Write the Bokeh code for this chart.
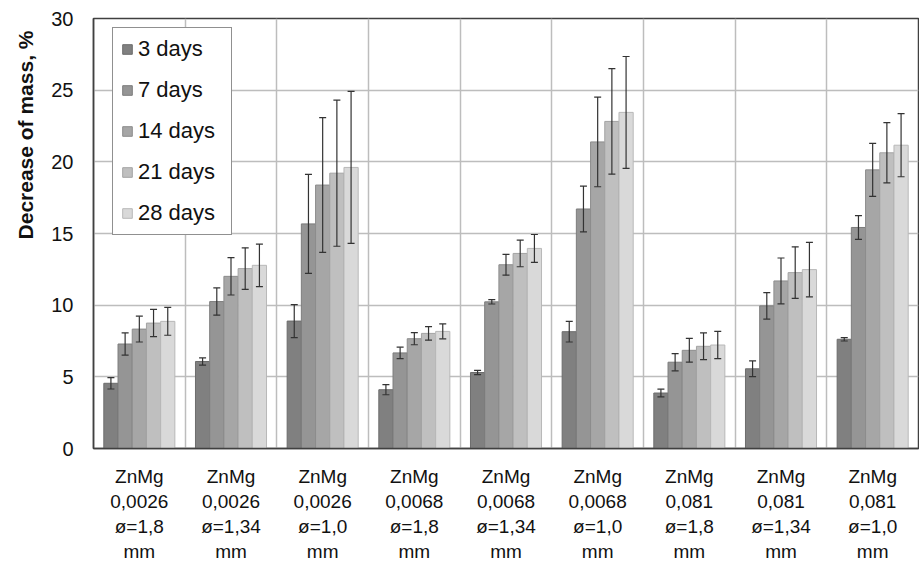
import numpy as np
from bokeh.plotting import figure
from bokeh.models import (ColumnDataSource, Range1d, FixedTicker, Whisker, Legend,
                          LegendItem, Title, TeeHead)
from bokeh.transform import dodge
from bokeh.embed import file_html
from bokeh.resources import INLINE

labels = ["ZnMg\n0,0026\nø=1,8\nmm", "ZnMg\n0,0026\nø=1,34\nmm", "ZnMg\n0,0026\nø=1,0\nmm",
          "ZnMg\n0,0068\nø=1,8\nmm", "ZnMg\n0,0068\nø=1,34\nmm", "ZnMg\n0,0068\nø=1,0\nmm",
          "ZnMg\n0,081\nø=1,8\nmm", "ZnMg\n0,081\nø=1,34\nmm", "ZnMg\n0,081\nø=1,0\nmm"]
series_names = ["3 days", "7 days", "14 days", "21 days", "28 days"]

days3 = [4.55, 6.07, 8.89, 4.10, 5.30, 8.15, 3.87, 5.56, 7.62]
err3 = [0.40, 0.25, 1.15, 0.35, 0.15, 0.72, 0.27, 0.55, 0.12]
days7 = [7.29, 10.25, 15.67, 6.67, 10.23, 16.71, 6.02, 9.95, 15.42]
err7 = [0.77, 0.95, 3.45, 0.40, 0.15, 1.60, 0.60, 0.92, 0.83]
days14 = [8.33, 12.01, 18.38, 7.66, 12.82, 21.39, 6.85, 11.69, 19.44]
err14 = [0.90, 1.30, 4.70, 0.42, 0.73, 3.13, 0.83, 1.60, 1.85]
days21 = [8.75, 12.55, 19.21, 8.03, 13.61, 22.82, 7.13, 12.27, 20.63]
err21 = [0.95, 1.45, 5.10, 0.47, 0.93, 3.68, 0.93, 1.80, 2.10]
days28 = [8.87, 12.78, 19.61, 8.17, 13.96, 23.45, 7.22, 12.48, 21.16]
err28 = [0.97, 1.48, 5.30, 0.52, 0.97, 3.90, 0.95, 1.90, 2.20]

y_ticks = [0, 5, 10, 15, 20, 25, 30]

values = [days3, days7, days14, days21, days28]
errors = [err3, err7, err14, err21, err28]
fills = ["#808080", "#959595", "#a6a6a6", "#bfbfbf", "#d9d9d9"]
edges = ["#6c6c6c", "#7c7c7c", "#8c8c8c", "#a3a3a3", "#b8b8b8"]

n = len(labels)
centers = np.arange(n) + 0.5
bar_w = 0.155

p = figure(width=919, height=565, output_backend="svg", toolbar_location=None,
           x_range=Range1d(0, n), y_range=Range1d(0, 30),
           min_border_left=92, min_border_right=1, min_border_top=18, min_border_bottom=115)
p.background_fill_color = "white"
p.border_fill_color = "white"
p.outline_line_color = "#404040"
p.outline_line_width = 1.5

p.xaxis.ticker = FixedTicker(ticks=list(centers))
p.xaxis.major_label_overrides = {float(c): lab for c, lab in zip(centers, labels)}
p.xaxis.major_label_text_font = "'Liberation Sans Narrow', 'Liberation Sans'"
p.xaxis.major_label_text_font_size = "19px"
p.xaxis.major_label_text_line_height = 1.2
p.xaxis.major_label_text_color = "#111111"
p.xaxis.major_label_standoff = 17
p.xaxis.major_tick_out = 0
p.xaxis.major_tick_in = 0
p.xaxis.minor_tick_out = 0
p.xaxis.minor_tick_in = 0
p.xaxis.axis_line_color = "#404040"
p.xaxis.axis_line_width = 1.5

p.yaxis.ticker = FixedTicker(ticks=y_ticks)
p.yaxis.major_label_text_font = "Liberation Sans"
p.yaxis.major_label_text_font_size = "20px"
p.yaxis.major_label_text_color = "#111111"
p.yaxis.major_label_standoff = 20
p.yaxis.major_tick_out = 0
p.yaxis.major_tick_in = 0
p.yaxis.minor_tick_out = 0
p.yaxis.minor_tick_in = 0
p.yaxis.axis_line_color = "#404040"
p.yaxis.axis_line_width = 1.5

p.xgrid.ticker = FixedTicker(ticks=list(np.arange(1, n)))
p.xgrid.grid_line_color = "#bdbdbd"
p.xgrid.grid_line_width = 1.5
p.ygrid.grid_line_color = "#bdbdbd"
p.ygrid.grid_line_width = 1.5

data = {"x": centers}
for i in range(5):
    data[f"v{i}"] = values[i]
    data[f"lo{i}"] = np.array(values[i]) - np.array(errors[i])
    data[f"hi{i}"] = np.array(values[i]) + np.array(errors[i])
source = ColumnDataSource(data)

offsets = [(i - 2) * bar_w for i in range(5)]
items = []
for i in range(5):
    r = p.vbar(x=dodge("x", offsets[i], range=p.x_range), top=f"v{i}", width=bar_w,
               source=source, fill_color=fills[i], line_color=edges[i], line_width=1)
    items.append(LegendItem(label=series_names[i], renderers=[r]))
for i in range(5):
    w = Whisker(source=source, base=dodge("x", offsets[i], range=p.x_range),
                upper=f"hi{i}", lower=f"lo{i}", dimension="height", level="overlay",
                line_color="#333333", line_width=1.2,
                upper_head=TeeHead(size=7, line_color="#333333", line_width=1.2),
                lower_head=TeeHead(size=7, line_color="#333333", line_width=1.2))
    p.add_layout(w)

legend = Legend(items=items, location=(19, 213), orientation="vertical",
                label_text_font="Liberation Sans", label_text_font_size="22px",
                label_text_color="#111111", glyph_width=12, glyph_height=12,
                label_standoff=5, label_height=24, label_width=85, spacing=15,
                padding=8, margin=0,
                border_line_color="#222222", border_line_width=1.3,
                background_fill_color="white", background_fill_alpha=1.0)
p.add_layout(legend, "center")

ytitle = Title(text="Decrease of mass, %", align="right", offset=12,
               text_font="Liberation Sans", text_font_style="bold",
               text_font_size="21px", text_color="#111111", standoff=23)
p.add_layout(ytitle, "left")

open("out.html", "w").write(file_html(p, INLINE))
